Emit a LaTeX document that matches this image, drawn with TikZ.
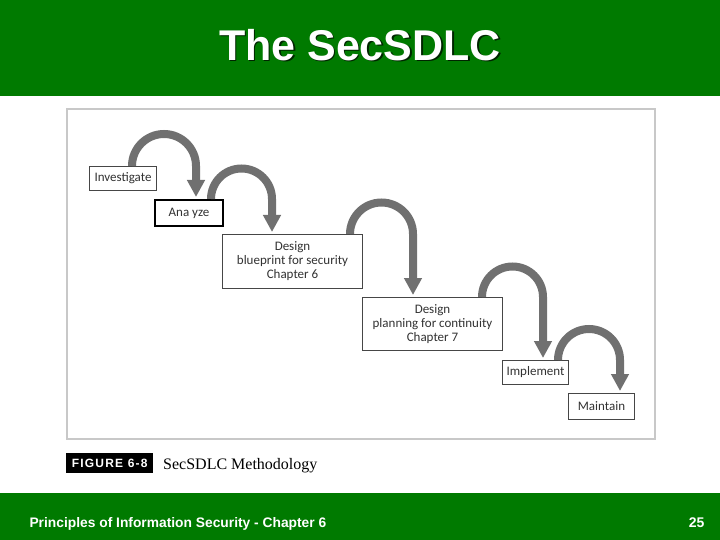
\documentclass[tikz,border=0pt]{standalone}
\usepackage{fontspec}
\setmainfont{Liberation Sans}
\newfontfamily\boxfont{Carlito}
\newfontfamily\capserif{Liberation Serif}
\newfontfamily\figfont[LetterSpace=10]{Liberation Sans}
\usetikzlibrary{arrows.meta,calc}
\definecolor{slidegreen}{RGB}{0,122,0}
\definecolor{arrowgray}{RGB}{112,112,112}
\definecolor{boxline}{RGB}{70,70,70}
\definecolor{boxtext}{RGB}{50,50,50}
\definecolor{framegray}{RGB}{200,200,200}
\tikzset{
  stepbox/.style={draw=boxline, line width=1pt, fill=white, inner sep=0pt,
    anchor=north west, align=center, text=boxtext,
    font=\boxfont\fontsize{13}{14}\selectfont},
  flowarrow/.style={draw=arrowgray, line width=8pt,
    -{Triangle[width=17pt,length=17pt]}},
}
\begin{document}
\begin{tikzpicture}[x=1pt,y=-1pt]
\useasboundingbox (0,0) rectangle (720,540);
\fill[white] (0,0) rectangle (720,540);
% title bar
\fill[slidegreen] (0,0) rectangle (720,96);
\node[text=black!70!slidegreen, font=\bfseries\fontsize{43}{46}\selectfont] (titleshadow) at (361.5,46.5) {The SecSDLC};
\node[text=white, font=\bfseries\fontsize{43}{46}\selectfont] (title) at (360,45) {The SecSDLC};
% footer bar
\fill[slidegreen] (0,493) rectangle (720,540);
\node[text=white, anchor=base west, font=\bfseries\fontsize{13.8}{16}\selectfont] (foot) at (26,527) {Principles of Information Security - Chapter 6};
\node[text=white, anchor=base east, font=\bfseries\fontsize{14}{16}\selectfont] (page) at (708,527) {25};
% figure frame
\draw[framegray, line width=1.5pt] (67,109) rectangle (655,439);
% boxes
\node[stepbox, minimum width=67pt, minimum height=24pt] (inv) at (89,166) {Investigate};
\node[stepbox, draw=black, line width=2pt, minimum width=68pt, minimum height=26pt] (ana) at (154,199) {Ana yze};
\node[stepbox, minimum width=140pt, minimum height=54pt] (bp) at (222,234) {Design\\blueprint for security\\Chapter 6};
\node[stepbox, minimum width=140pt, minimum height=53pt] (pc) at (362,297) {Design\\planning for continuity\\Chapter 7};
\node[stepbox, minimum width=66pt, minimum height=24pt] (imp) at (502,360) {Implement};
\node[stepbox, minimum width=66pt, minimum height=26pt] (mnt) at (568,393) {Maintain};
% arrows
\coordinate (s1) at ($(inv.north west)+(43,0)$);
\draw[flowarrow] (s1) arc[start angle=180, end angle=360, radius=32] -- ($(s1 |- ana.north)+(64,-2)$);
\coordinate (s2) at ($(ana.north west)+(57,0)$);
\draw[flowarrow] (s2) arc[start angle=180, end angle=360, radius=30.5] -- ($(s2 |- bp.north)+(61,-2)$);
\coordinate (s3) at ($(bp.north west)+(128,0)$);
\draw[flowarrow] (s3) arc[start angle=180, end angle=360, radius=31.5] -- ($(s3 |- pc.north)+(63,-2)$);
\coordinate (s4) at ($(pc.north west)+(120,0)$);
\draw[flowarrow] (s4) arc[start angle=180, end angle=360, radius=30.5] -- ($(s4 |- imp.north)+(61,-2)$);
\coordinate (s5) at ($(imp.north west)+(56,0)$);
\draw[flowarrow] (s5) arc[start angle=180, end angle=360, radius=31] -- ($(s5 |- mnt.north)+(62,-2)$);
% caption
\node[fill=black, text=white, anchor=north west, inner sep=0pt, minimum width=87pt, minimum height=20pt, font=\figfont\bfseries\fontsize{12}{14}\selectfont] (figlabel) at (66,453) {FIGURE 6-8};
\node[anchor=base west, inner sep=0pt, font=\capserif\fontsize{16}{18}\selectfont] (figcap) at (163,469) {SecSDLC Methodology};
\end{tikzpicture}
\end{document}
